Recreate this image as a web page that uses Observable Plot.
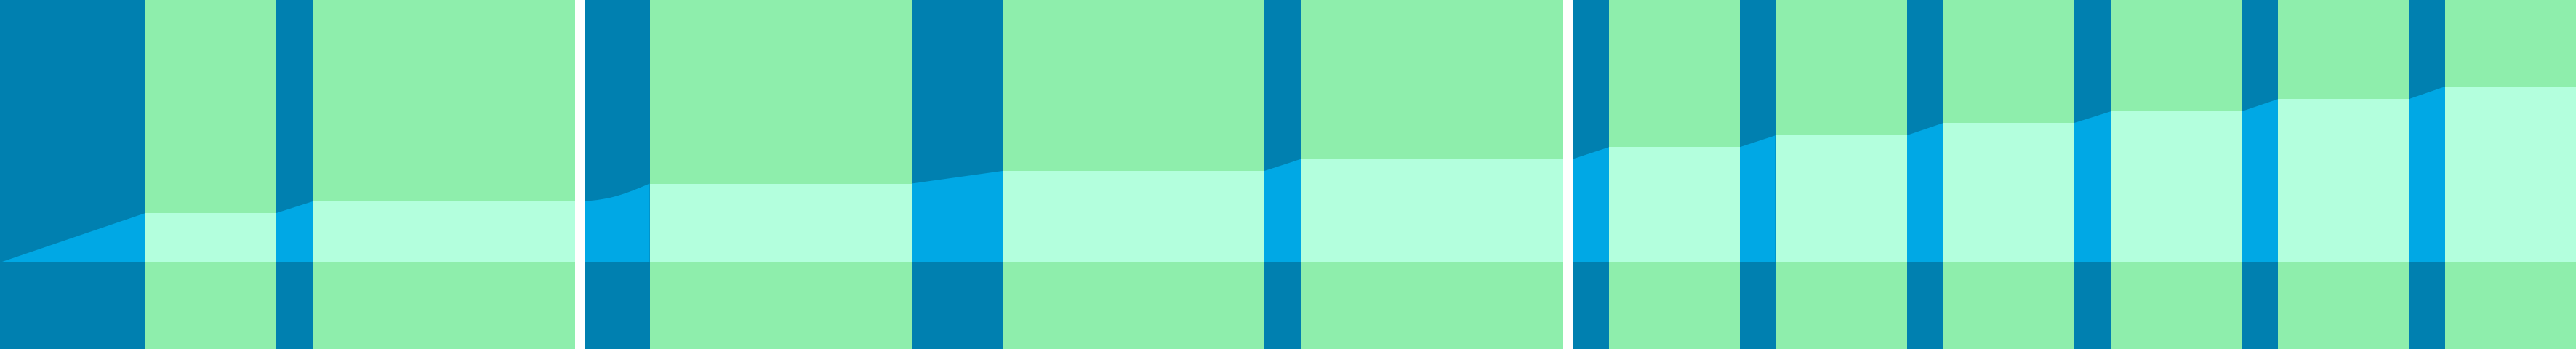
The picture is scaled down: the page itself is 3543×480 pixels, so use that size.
<!DOCTYPE html>
<html>
<head>
<meta charset="utf-8">
<script src="https://cdn.jsdelivr.net/npm/d3@7"></script>
<script src="https://cdn.jsdelivr.net/npm/@observablehq/plot@0.6"></script>
<style>
  html, body { margin: 0; padding: 0; background: #ffffff; }
  #chart svg { display: block; }
</style>
</head>
<body>
<div id="chart"></div>
<script>
// Bands along the time axis (arbitrary time units)
const bandStart = [0, 20, 38, 43, 80.4, 89.35, 125.4, 137.9, 173.9, 178.9, 216.3, 221.3, 239.3, 244.25, 262.3, 267.3, 285.3, 290.3, 308.3, 313.3, 331.3, 336.3];
const bandEnd   = [20, 38, 43, 79.06, 89.35, 125.4, 137.9, 173.9, 178.9, 214.98, 221.3, 239.3, 244.25, 262.3, 267.3, 285.3, 290.3, 308.3, 313.3, 331.3, 336.3, 354.3];
const bandKind  = ["rise","hold","rise","hold","rise","hold","rise","hold","rise","hold","rise","hold","rise","hold","rise","hold","rise","hold","rise","hold","rise","hold"];

// Cumulative level series (three segments)
const seriesT     = [0, 20, 38, 43, 79.06,   80.4, 84, 87, 89.35, 125.4, 137.9, 173.9, 178.9, 214.98,   216.3, 221.3, 239.3, 244.25, 262.3, 267.3, 285.3, 290.3, 308.3, 313.3, 331.3, 336.3, 354.3];
const seriesLevel = [0, 68, 68, 84, 84,      84.3, 89.3, 98.8, 108.5, 108.5, 126, 126, 142.3, 142.3,   142.3, 158.7, 158.7, 175, 175, 192, 192, 207.7, 207.7, 224.7, 224.7, 242, 242];
const seriesPart  = [1, 1, 1, 1, 1,          2, 2, 2, 2, 2, 2, 2, 2, 2,   3, 3, 3, 3, 3, 3, 3, 3, 3, 3, 3, 3, 3];

const bands = bandStart.map((s, i) => ({x1: s, x2: bandEnd[i], kind: bandKind[i], idx: i}));
const points = seriesT.map((t, i) => ({t, v: seriesLevel[i], part: seriesPart[i]}));

// Split the area into per-band pieces so each band can take its own fill
const pieces = [];
bands.forEach(b => {
  points.filter(p => p.t >= b.x1 - 1e-9 && p.t <= b.x2 + 1e-9)
    .forEach(p => pieces.push({...p, band: b.idx, kind: b.kind}));
});

const DARK = "#0080b0", GREEN = "#8eeeac", CYAN = "#00a8e5", MINT = "#b3ffdd";

const chart = Plot.plot({
  width: 3543,
  height: 480,
  margin: 0,
  x: {domain: [0, 354.3], axis: null},
  y: {domain: [-119, 361], axis: null},
  style: {background: "#ffffff"},
  marks: [
    Plot.rect(bands.filter(b => b.kind === "rise"), {x1: "x1", x2: "x2", fill: DARK, shapeRendering: "crispEdges"}),
    Plot.rect(bands.filter(b => b.kind === "hold"), {x1: "x1", x2: "x2", fill: GREEN, shapeRendering: "crispEdges"}),
    Plot.areaY(pieces.filter(p => p.kind === "rise"), {x: "t", y1: 0, y2: "v", z: "band", fill: CYAN, curve: "monotone-x"}),
    Plot.areaY(pieces.filter(p => p.kind === "hold"), {x: "t", y1: 0, y2: "v", z: "band", fill: MINT, shapeRendering: "crispEdges"})
  ]
});
document.getElementById("chart").appendChild(chart);
</script>
</body>
</html>
